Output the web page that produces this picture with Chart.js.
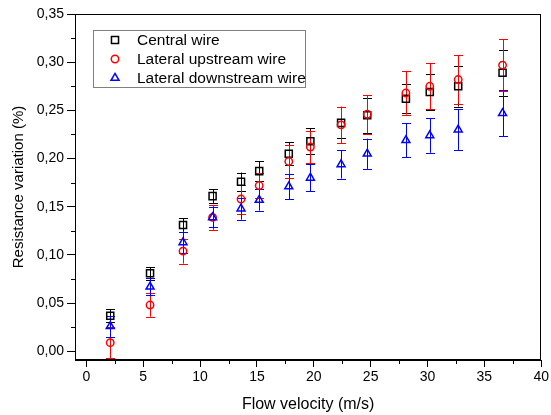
<!DOCTYPE html>
<html>
<head>
<meta charset="utf-8">
<script src="https://cdn.jsdelivr.net/npm/chart.js@4/dist/chart.umd.min.js"></script>
<style>
  html, body { margin: 0; padding: 0; background: #fff; }
  #wrap { width: 551px; height: 415px; }
</style>
</head>
<body>
<div id="wrap"><canvas id="myChart" width="551" height="415"></canvas></div>
<script>
// Flow velocity (m/s), shared by the three wires
const velocity = [2.1, 5.6, 8.5, 11.1, 13.6, 15.2, 17.8, 19.7, 22.4, 24.7, 28.1, 30.2, 32.7, 36.6];

// Resistance variation (%) and error (+/-)
const central = [0.037, 0.081, 0.131, 0.161, 0.176, 0.187, 0.205, 0.218, 0.237, 0.245, 0.262, 0.269, 0.275, 0.289];
const centralErr = [0.007, 0.0065, 0.007, 0.007, 0.0095, 0.0105, 0.012, 0.0135, 0.016, 0.018, 0.015, 0.019, 0.021, 0.024];

const upstream = [0.009, 0.048, 0.104, 0.139, 0.158, 0.172, 0.197, 0.212, 0.235, 0.246, 0.268, 0.275, 0.282, 0.297];
const upstreamErr = [0.016, 0.012, 0.013, 0.013, 0.015, 0.013, 0.017, 0.017, 0.019, 0.020, 0.0225, 0.024, 0.025, 0.027];

const downstream = [0.026, 0.067, 0.113, 0.139, 0.148, 0.157, 0.171, 0.180, 0.194, 0.205, 0.219, 0.224, 0.230, 0.247];
const downstreamErr = [0.011, 0.009, 0.011, 0.0105, 0.0114, 0.011, 0.013, 0.014, 0.0147, 0.0157, 0.0177, 0.018, 0.021, 0.024];

const seriesLabels = ['Central wire', 'Lateral upstream wire', 'Lateral downstream wire'];
const seriesColors = ['#000000', '#ff0000', '#0000ff'];
const seriesShapes = ['rect', 'circle', 'triangle'];
const seriesRadius = [5, 3.7, 4.6];

const xMajor = [0, 5, 10, 15, 20, 25, 30, 35, 40];
const xMinor = [2.5, 7.5, 12.5, 17.5, 22.5, 27.5, 32.5, 37.5];
const yMajor = [0, 0.05, 0.1, 0.15, 0.2, 0.25, 0.3, 0.35];
const yMinor = [0.025, 0.075, 0.125, 0.175, 0.225, 0.275, 0.325];

const FONT = "'Liberation Sans', Arial, sans-serif";

function toPoints(ys) {
    return velocity.map((v, i) => ({ x: v, y: ys[i] }));
}

const allValues = [central, upstream, downstream];
const allErrors = [centralErr, upstreamErr, downstreamErr];

const datasets = allValues.map((vals, k) => ({
    label: seriesLabels[k],
    data: toPoints(vals),
    errors: allErrors[k],
    showLine: false,
    pointStyle: seriesShapes[k],
    pointRadius: seriesRadius[k],
    pointHoverRadius: seriesRadius[k],
    pointBorderWidth: 1.5,
    borderColor: seriesColors[k],
    backgroundColor: 'rgba(255,255,255,0)',
    order: 2 - k
}));

// error bars, frame, minor ticks and an inset legend
const extras = {
    id: 'extras',
    beforeDatasetsDraw(chart) {
        const ctx = chart.ctx;
        const xs = chart.scales.x, ys = chart.scales.y;
        ctx.save();
        ctx.lineWidth = 1;
        chart.data.datasets.forEach((ds) => {
            ctx.strokeStyle = ds.borderColor;
            ds.data.forEach((p, i) => {
                const e = ds.errors[i];
                const px = Math.round(xs.getPixelForValue(p.x)) + 0.5;
                const top = ys.getPixelForValue(p.y + e);
                const bot = ys.getPixelForValue(p.y - e);
                ctx.beginPath();
                ctx.moveTo(px, top);
                ctx.lineTo(px, bot);
                ctx.moveTo(px - 4.5, Math.round(top) + 0.5);
                ctx.lineTo(px + 4.5, Math.round(top) + 0.5);
                ctx.moveTo(px - 4.5, Math.round(bot) + 0.5);
                ctx.lineTo(px + 4.5, Math.round(bot) + 0.5);
                ctx.stroke();
            });
        });
        ctx.restore();
    },
    afterDraw(chart) {
        const ctx = chart.ctx;
        const a = chart.chartArea;
        const xs = chart.scales.x, ys = chart.scales.y;
        ctx.save();
        ctx.strokeStyle = '#000';
        ctx.lineWidth = 1;
        ctx.strokeRect(Math.round(a.left) + 0.5, Math.round(a.top) + 0.5,
            Math.round(a.right - a.left) - 1, Math.round(a.bottom - a.top) - 1);
        ctx.beginPath();
        xMinor.forEach(v => {
            const px = Math.round(xs.getPixelForValue(v)) + 0.5;
            ctx.moveTo(px, a.bottom);
            ctx.lineTo(px, a.bottom + 4);
        });
        yMinor.forEach(v => {
            const py = Math.round(ys.getPixelForValue(v)) + 0.5;
            ctx.moveTo(a.left, py);
            ctx.lineTo(a.left - 4, py);
        });
        ctx.stroke();

        // legend box
        ctx.strokeStyle = '#7f7f7f';
        ctx.strokeRect(93.5, 30.5, 212, 57);
        ctx.font = '15.5px ' + FONT;
        ctx.textBaseline = 'middle';
        ctx.fillStyle = '#000';
        const rows = [40, 59, 78];
        chart.data.datasets.forEach((ds, k) => {
            ctx.lineWidth = 1.5;
            ctx.strokeStyle = ds.borderColor;
            ctx.fillStyle = 'rgba(255,255,255,0)';
            Chart.helpers.drawPoint(ctx, {
                pointStyle: ds.pointStyle,
                radius: ds.pointRadius,
                borderWidth: 1.5,
                rotation: 0
            }, 115, rows[k]);
            ctx.fillStyle = '#000';
            ctx.fillText(ds.label, 137, rows[k] + 1);
        });
        ctx.restore();
    }
};

const ctx = document.getElementById('myChart').getContext('2d');

const myChart = new Chart(ctx, {
    type: 'scatter',
    data: { datasets: datasets },
    plugins: [extras],
    options: {
        responsive: false,
        animation: false,
        events: [],
        layout: { padding: { top: 14, right: 9, left: 0, bottom: 0 } },
        plugins: {
            legend: { display: false },
            tooltip: { enabled: false }
        },
        scales: {
            x: {
                type: 'linear',
                min: -1,
                max: 40,
                afterFit(scale) { scale.height = 55; },
                afterBuildTicks(scale) { scale.ticks = xMajor.map(v => ({ value: v })); },
                ticks: {
                    color: '#000',
                    font: { family: FONT, size: 14 },
                    padding: 2,
                    maxRotation: 0,
                    autoSkip: false
                },
                grid: { drawOnChartArea: false, drawTicks: true, tickLength: 7, tickColor: '#000' },
                border: { color: '#000', width: 1 },
                title: {
                    display: true,
                    text: 'Flow velocity (m/s)',
                    color: '#000',
                    font: { family: FONT, size: 16 },
                    padding: { top: 0, bottom: 1 }
                }
            },
            y: {
                type: 'linear',
                min: -0.009,
                max: 0.35,
                afterFit(scale) { scale.width = 75; },
                afterBuildTicks(scale) { scale.ticks = yMajor.map(v => ({ value: v })); },
                ticks: {
                    color: '#000',
                    font: { family: FONT, size: 14 },
                    padding: 3,
                    callback: (v) => Number(v).toFixed(2).replace('.', ',')
                },
                grid: { drawOnChartArea: false, drawTicks: true, tickLength: 8, tickColor: '#000' },
                border: { color: '#000', width: 1 },
                title: {
                    display: true,
                    text: 'Resistance variation (%)',
                    color: '#000',
                    font: { family: FONT, size: 15 },
                    padding: { top: 10, bottom: 0 }
                }
            }
        }
    }
});
</script>
</body>
</html>
